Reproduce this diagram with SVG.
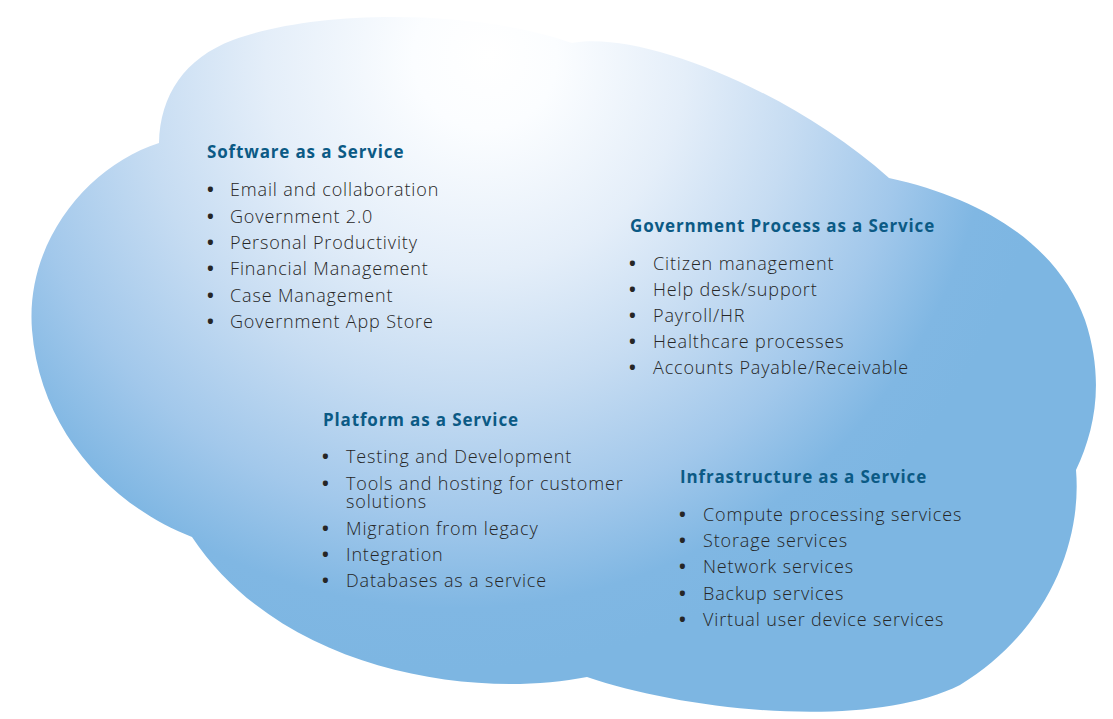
<svg xmlns="http://www.w3.org/2000/svg" width="1113" height="719" viewBox="0 0 1113 719">
  <style>
    .h { font-family: "Open Sans", "Liberation Sans", sans-serif; font-weight: 700; font-size: 17px; fill: #0b5a85; letter-spacing: 0.85px; }
    .t { font-family: "Open Sans", "Liberation Sans", sans-serif; font-weight: 300; font-size: 18px; fill: #262626; letter-spacing: 0.85px; }
    .b { font-family: "Open Sans", "Liberation Sans", sans-serif; font-size: 18px; font-weight: 700; fill: #262626; }
  </style>
  <defs>
    <radialGradient id="sky" gradientUnits="userSpaceOnUse" cx="450" cy="70" r="600" fx="490" fy="55">
      <stop offset="0" stop-color="#ffffff"/>
      <stop offset="0.12" stop-color="#fbfdff"/>
      <stop offset="0.35" stop-color="#e4eef9"/>
      <stop offset="0.55" stop-color="#c6dcf2"/>
      <stop offset="0.75" stop-color="#a2c8eb"/>
      <stop offset="0.9" stop-color="#80b7e3"/>
      <stop offset="1" stop-color="#7db6e2"/>
    </radialGradient>
  </defs>
  <rect width="1113" height="719" fill="#ffffff"/>
  <g id="cloud">
    <path fill="url(#sky)" d="M159,143 C160,95 185,58 233,40 C320,8 480,10 572,43 C640,30 790,90 889,178 C990,200 1060,250 1085,320 C1105,380 1095,430 1076,470 C1082,540 1050,630 960,685 C870,730 690,712 587,677 C470,700 280,670 192,537 C110,505 40,430 32,330 C25,240 90,165 159,143 Z"/>
  </g>
  <g id="saas">
    <text class="h" x="207" y="158">Software as a Service</text>
    <g class="b"><text x="207" y="196">•</text><text x="207" y="222.5">•</text><text x="207" y="249">•</text><text x="207" y="275">•</text><text x="207" y="301.5">•</text><text x="207" y="327.5">•</text></g>
    <text class="t" x="230" y="196">Email and collaboration</text>
    <text class="t" x="230" y="222.5">Government 2.0</text>
    <text class="t" x="230" y="249">Personal Productivity</text>
    <text class="t" x="230" y="275">Financial Management</text>
    <text class="t" x="230" y="301.5">Case Management</text>
    <text class="t" x="230" y="327.5">Government App Store</text>
  </g>
  <g id="gpaas">
    <text class="h" x="630" y="231.5">Government Process as a Service</text>
    <g class="b"><text x="629" y="270">•</text><text x="629" y="296">•</text><text x="629" y="321.5">•</text><text x="629" y="347.5">•</text><text x="629" y="374">•</text></g>
    <text class="t" x="653" y="270">Citizen management</text>
    <text class="t" x="653" y="296">Help desk/support</text>
    <text class="t" x="653" y="321.5">Payroll/HR</text>
    <text class="t" x="653" y="347.5">Healthcare processes</text>
    <text class="t" x="653" y="374">Accounts Payable/Receivable</text>
  </g>
  <g id="paas">
    <text class="h" x="323" y="426">Platform as a Service</text>
    <g class="b"><text x="322" y="463">•</text><text x="322" y="490">•</text><text x="322" y="535">•</text><text x="322" y="561">•</text><text x="322" y="587">•</text></g>
    <text class="t" x="346" y="463">Testing and Development</text>
    <text class="t" x="346" y="490">Tools and hosting for customer</text>
    <text class="t" x="346" y="508">solutions</text>
    <text class="t" x="346" y="535">Migration from legacy</text>
    <text class="t" x="346" y="561">Integration</text>
    <text class="t" x="346" y="587">Databases as a service</text>
  </g>
  <g id="iaas">
    <text class="h" x="680" y="482.5">Infrastructure as a Service</text>
    <g class="b"><text x="679" y="521">•</text><text x="679" y="547">•</text><text x="679" y="573">•</text><text x="679" y="599.5">•</text><text x="679" y="625.5">•</text></g>
    <text class="t" x="703" y="521">Compute processing services</text>
    <text class="t" x="703" y="547">Storage services</text>
    <text class="t" x="703" y="573">Network services</text>
    <text class="t" x="703" y="599.5">Backup services</text>
    <text class="t" x="703" y="625.5">Virtual user device services</text>
  </g>
</svg>
